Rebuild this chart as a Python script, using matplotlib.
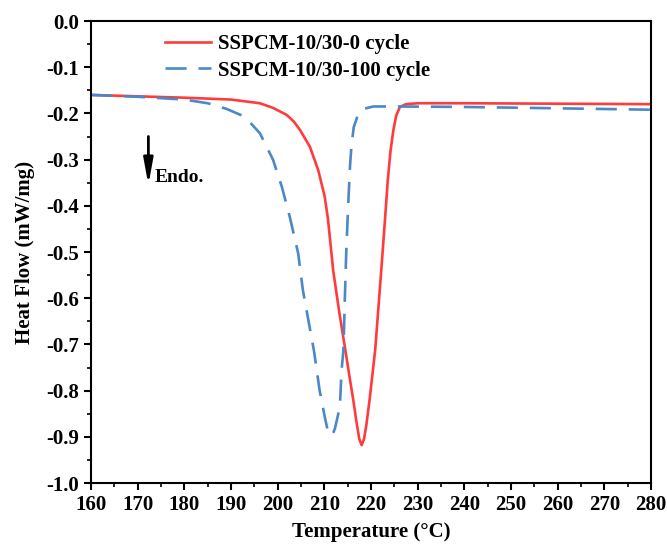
import numpy as np
import matplotlib.pyplot as plt
from matplotlib.ticker import MultipleLocator

# DSC curves
temp_0 = [160, 170, 180, 190, 196.2, 199, 201.9, 203.5, 204.8, 206.9, 208.7,
          210.1, 210.8, 211.9, 213.2, 214.5, 215.4, 216.2, 217, 217.5, 218,
          218.5, 219, 219.7, 220.9, 222.2, 223, 223.6, 224.2, 224.8, 225.4,
          226.2, 227.5, 230, 240, 260, 280]
flow_0 = [-0.16, -0.163, -0.166, -0.17, -0.178, -0.188, -0.203, -0.218, -0.236,
          -0.272, -0.323, -0.381, -0.43, -0.54, -0.63, -0.712, -0.77, -0.82,
          -0.875, -0.905, -0.918, -0.905, -0.875, -0.82, -0.712, -0.54, -0.43,
          -0.344, -0.28, -0.236, -0.205, -0.186, -0.18, -0.178, -0.178, -0.179,
          -0.18]

temp_100 = [160, 170, 180, 185, 189, 192, 194.3, 196.2, 199, 200.9, 202.6, 204.4,
            205.4, 207.8, 209, 210.1, 210.7, 211.3, 211.8, 212.3, 213, 213.4,
            213.7, 214.1, 214.4, 214.7, 215.1, 215.5, 215.8, 216.3, 217.3,
            218.5, 220.5, 225, 240, 260, 280]
flow_100 = [-0.16, -0.164, -0.17, -0.178, -0.19, -0.203, -0.222, -0.243, -0.3,
            -0.359, -0.424, -0.503, -0.582, -0.715, -0.8, -0.857, -0.885, -0.897,
            -0.895, -0.881, -0.85, -0.82, -0.755, -0.712, -0.6, -0.5, -0.402,
            -0.315, -0.272, -0.23, -0.2, -0.19, -0.185, -0.185, -0.186, -0.189,
            -0.192]

labels = ['SSPCM-10/30-0 cycle', 'SSPCM-10/30-100 cycle']

plt.rcParams['font.family'] = ['Liberation Serif', 'DejaVu Serif']
plt.rcParams['font.weight'] = 'bold'

fig = plt.figure(figsize=(6.67, 5.47), dpi=100)
ax = fig.add_axes([0.1364, 0.117, 0.8396, 0.8446])

ax.plot(temp_0, flow_0, color='#ff3b3b', lw=1.9, label=labels[0])
ax.plot(temp_100, flow_100, color='#4a88c8', lw=1.9, ls=(0, (8, 4.5)), label=labels[1])

ax.set_xlim(160, 280)
ax.set_ylim(-1.0, 0.0)
ax.xaxis.set_major_locator(MultipleLocator(10))
ax.xaxis.set_minor_locator(MultipleLocator(5))
ax.yaxis.set_major_locator(MultipleLocator(0.1))
ax.yaxis.set_minor_locator(MultipleLocator(0.05))
ax.yaxis.set_major_formatter(plt.FuncFormatter(lambda v, p: f'{v:.1f}'))
ax.tick_params(which='major', direction='out', length=5, width=1.5, labelsize=15)
ax.tick_params(which='minor', direction='out', length=3, width=1.2)
for s in ax.spines.values():
    s.set_linewidth(1.5)

ax.set_xlabel('Temperature (°C)', fontsize=15, fontweight='bold', labelpad=5)
ax.set_ylabel('Heat Flow (mW/mg)', fontsize=15, fontweight='bold', labelpad=8)

ax.annotate('', xy=(172.3, -0.355), xytext=(172.3, -0.25),
            arrowprops=dict(arrowstyle='-|>,head_length=1.1,head_width=0.2',
                            color='black', lw=2, mutation_scale=14,
                            shrinkA=0, shrinkB=0))
ax.text(173.6, -0.338, 'Endo.', fontsize=14, fontweight='bold', va='center')

ax.legend(loc='upper left', bbox_to_anchor=(0.132, 0.971), frameon=False,
          fontsize=15, handlelength=2.2, handletextpad=0.35, labelspacing=0.3,
          borderpad=0, borderaxespad=0)

fig.savefig('out.png', dpi=100)
